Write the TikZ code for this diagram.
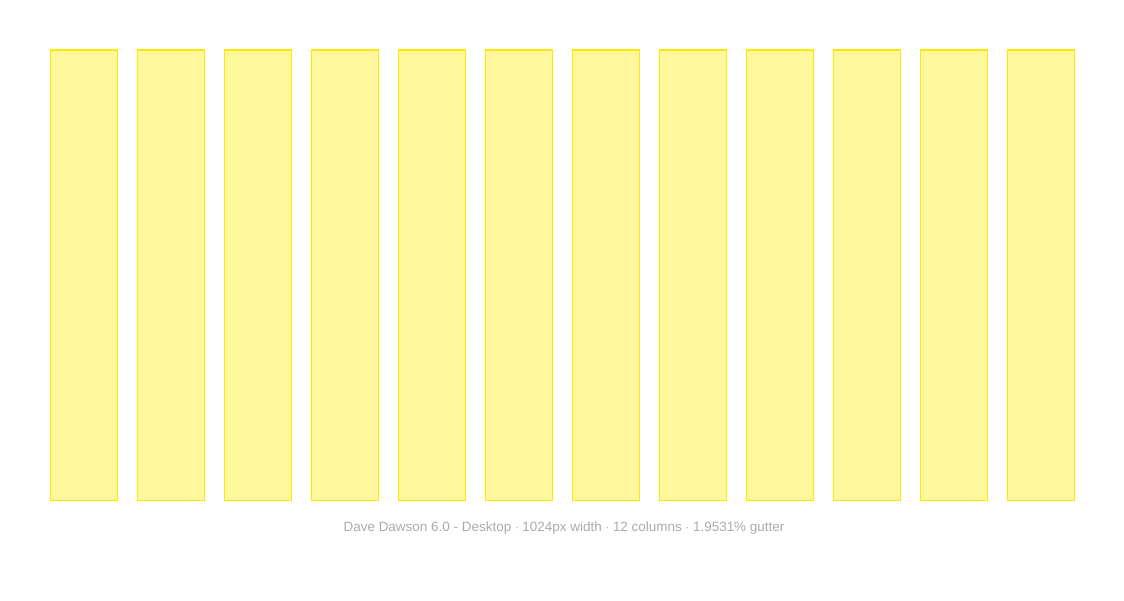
\documentclass[tikz,border=0pt]{standalone}
\usepackage{fontspec}
\setmainfont{Liberation Sans}
\usetikzlibrary{positioning}
\definecolor{colfill}{HTML}{FFF79B}
\definecolor{colline}{HTML}{FFE800}
\definecolor{captiongray}{HTML}{AAAAAA}

\begin{document}
\begin{tikzpicture}[x=0.75pt, y=-0.75pt,
    column/.style={rectangle, draw=colline, fill=colfill, line width=1pt, minimum width=67.5*0.75pt, minimum height=450.5*0.75pt, inner sep=0pt, outer sep=0pt},
    caption/.style={text=captiongray, font=\fontsize{10.1pt}{12pt}\selectfont, inner sep=0pt}]
\useasboundingbox (0,0) rectangle (1124,600);
\foreach \i in {1,...,12}
    \node[column] (col\i) at ({84+87*(\i-1)}, 275.25) {};
\node[caption] (caption) at (564, 528.5) {Dave Dawson 6.0 - Desktop $\cdot$ 1024px width $\cdot$ 12 columns $\cdot$ 1.9531\% gutter};
\end{tikzpicture}
\end{document}
